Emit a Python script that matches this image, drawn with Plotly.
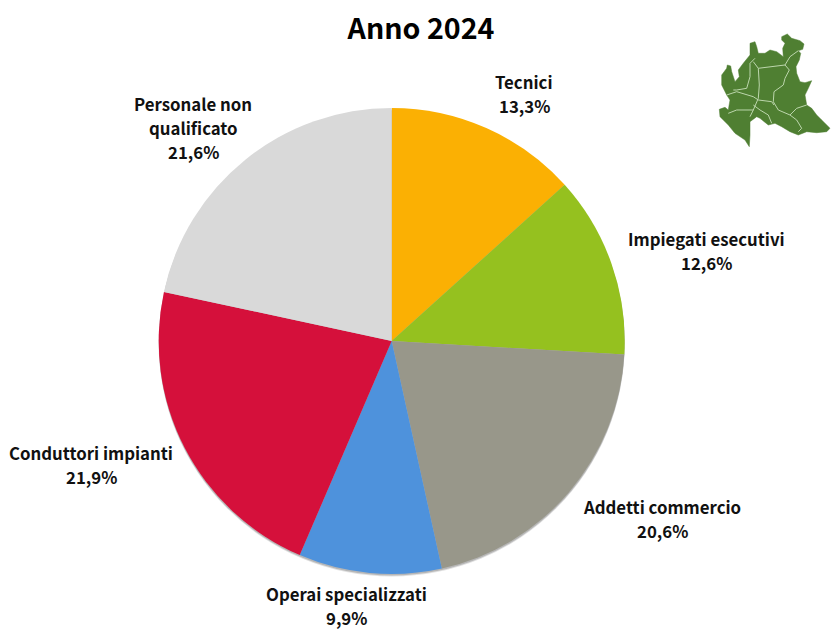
import plotly.graph_objects as go

WIDTH, HEIGHT = 831, 630
FONT = "Noto Sans CJK JP"

categories = ["Tecnici", "Impiegati esecutivi", "Addetti commercio",
              "Operai specializzati", "Conduttori impianti", "Personale non<br>qualificato"]
shares = [13.3, 12.6, 20.6, 9.9, 21.9, 21.6]
colors = ["#FBB003", "#95C11F", "#98978A", "#4E92DC", "#D5103B", "#D9D9D9"]
# horizontal centre and first-row centre of each label, in pixels
label_anchors = [(524, 82), (706, 239), (662, 507), (346.5, 594), (91, 453), (193, 104)]
LINE_STEP = 24

PIE_CX, PIE_CY, PIE_R = 391.7, 341, 233

# Lombardia silhouette and provincial borders, in pixels
region_outline = [(781.7,36.7),(787.3,34),(791.7,38.3),(800,40.7),(804,44),(802.7,49.3),(798.3,50.7),
    (800.7,53.3),(799.3,60),(796,66.7),(796.7,73.3),(800,81.7),(805,82.7),(811.7,80.7),(808.3,88.3),
    (805,95),(806.7,105),(811.7,108.3),(816.7,115),(821.7,120),(830,128.3),(826.7,131.7),(816.7,132.7),
    (806.7,131.7),(798.3,135),(790,131.7),(781.7,126.7),(775,123.3),(768.3,125),(760,118.3),(756.7,116.7),
    (750,121.7),(750,135),(749.3,146.7),(745,140),(735,133.3),(728.3,125),(720,116.7),(719.3,109.3),
    (725,107.3),(728.3,110),(730,100),(726.7,95),(721.7,85),(721.7,75),(726.7,68.3),(727.3,65),(730.7,66),
    (731.7,71.7),(735,81.7),(739.3,76.7),(738.3,70),(743.3,63.3),(750,55),(750,43.3),(755,41.7),(756.7,46.7),
    (758.3,53.3),(765,53.3),(770,50),(776.7,51.7),(783.3,56.7),(782.7,48.3),(785,43.3),(781.7,40)]
region_borders = [
    [(798.3,50.7),(790,56.7),(785,65),(789.3,70),(785,78.3),(783.3,85),(774,91.7),(773.3,101.7),(778.3,110),(790,115),(796.7,108.3),(806.7,105)],
    [(755,58.3),(750,63.3),(750,76.7),(746.7,88.3),(736.7,90),(733.3,90)],
    [(753.3,61.7),(758.3,68.3),(759.3,85),(758.3,98.3),(753.3,110),(736.7,110),(728.3,113.3)],
    [(758.3,68.3),(785,65)],
    [(758.3,100),(771.7,101.7),(774,105)],
    [(726.7,95),(736.7,91.7),(753.3,96.7),(758.3,100)],
    [(753.3,105),(760,110),(768.3,115),(771.7,123.3)],
    [(790,115),(796.7,120),(801.7,128.3),(798.3,131.7)],
    [(753.3,110),(750,116.7)],
]
BORDER_COLOR = "#BCD6AC"
MAP_COLOR = "#4F7F32"


def px_x(v):
    return v / WIDTH


def px_y(v):
    return 1 - v / HEIGHT


def svg_path(points, closed=False):
    body = " L".join(f"{px_x(x):.5f},{px_y(y):.5f}" for x, y in points)
    return "M" + body + (" Z" if closed else "")


def shadow_disc(offset, opacity):
    return dict(type="circle", xref="paper", yref="paper", layer="below",
                x0=px_x(PIE_CX - PIE_R), x1=px_x(PIE_CX + PIE_R),
                y0=px_y(PIE_CY + PIE_R + offset), y1=px_y(PIE_CY - PIE_R + offset),
                fillcolor="#555555", opacity=opacity, line=dict(width=0))


fig = go.Figure(go.Pie(
    labels=[c.replace("<br>", " ") for c in categories],
    values=shares,
    sort=False,
    direction="clockwise",
    rotation=0,
    marker=dict(colors=colors, line=dict(width=0)),
    textinfo="none",
    hoverinfo="label+percent",
    showlegend=False,
    domain=dict(x=[px_x(PIE_CX - PIE_R), px_x(PIE_CX + PIE_R)],
                y=[px_y(PIE_CY + PIE_R), px_y(PIE_CY - PIE_R)]),
))

# Each label line is its own annotation so the row spacing stays fixed
annotations = []
for name, value, (cx, top) in zip(categories, shares, label_anchors):
    lines = name.split("<br>") + [f"{value:.1f}%".replace(".", ",")]
    for row, line in enumerate(lines):
        annotations.append(dict(
            x=px_x(cx), y=px_y(top + row * LINE_STEP), xref="paper", yref="paper",
            text=line, showarrow=False, align="center", xanchor="center", yanchor="middle",
            borderpad=0,
            font=dict(family=FONT, size=16.8, color="#111111", weight=600),
        ))

shapes = [shadow_disc(2.5, 0.18), shadow_disc(1.5, 0.3)]
shapes.append(dict(type="path", xref="paper", yref="paper", path=svg_path(region_outline, closed=True),
                   fillcolor=MAP_COLOR, line=dict(color=MAP_COLOR, width=0.5)))
for border in region_borders:
    shapes.append(dict(type="path", xref="paper", yref="paper", path=svg_path(border),
                       line=dict(color=BORDER_COLOR, width=1.0)))

fig.update_layout(
    width=WIDTH, height=HEIGHT,
    margin=dict(l=0, r=0, t=0, b=0),
    paper_bgcolor="white",
    title=dict(text="Anno 2024", x=421 / WIDTH, xanchor="center", y=px_y(29), yanchor="middle",
               font=dict(family=FONT, size=28.6, color="#000000", weight=700)),
    annotations=annotations,
    shapes=shapes,
)

fig.write_html("out.html")
